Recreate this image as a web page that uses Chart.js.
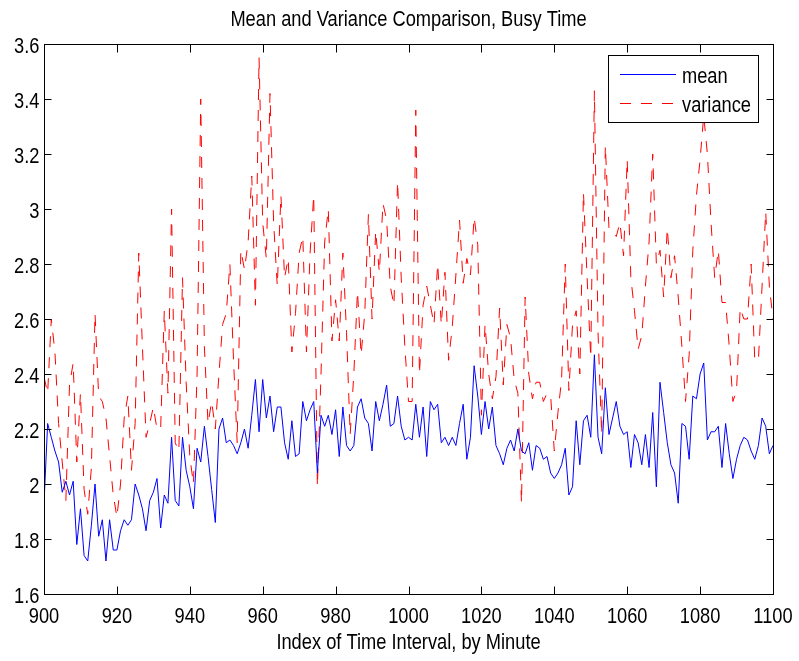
<!DOCTYPE html>
<html>
<head>
<meta charset="utf-8">
<title>Mean and Variance Comparison, Busy Time</title>
<script src="https://cdn.jsdelivr.net/npm/chart.js@4.4.1/dist/chart.umd.min.js"></script>
<style>
    body { margin: 0; background: #ffffff; }
    #chart-box { width: 799px; height: 661px; }
</style>
</head>
<body>
<div id="chart-box"></div>
<script>

// minute index, one point per minute
let firstMinute = 900;

let meanValues = [
    1.93, 2.22, 2.17, 2.12, 2.08, 1.97, 2.01, 1.96, 2.01, 1.78,
    1.91, 1.74, 1.72, 1.85, 2.00, 1.81, 1.87, 1.72, 1.87, 1.76,
    1.76, 1.83, 1.87, 1.85, 1.87, 2.00, 1.96, 1.91, 1.83, 1.94,
    1.97, 2.02, 1.84, 1.96, 1.93, 2.17, 1.94, 1.92, 2.17, 2.05,
    1.99, 1.91, 2.13, 2.08, 2.21, 2.10, 1.98, 1.86, 2.20, 2.24,
    2.15, 2.16, 2.14, 2.11, 2.15, 2.20, 2.13, 2.25, 2.38, 2.19,
    2.38, 2.24, 2.32, 2.19, 2.28, 2.28, 2.15, 2.09, 2.23, 2.10,
    2.11, 2.30, 2.23, 2.27, 2.30, 2.04, 2.25, 2.21, 2.25, 2.18,
    2.27, 2.10, 2.28, 2.14, 2.12, 2.14, 2.28, 2.31, 2.24, 2.22,
    2.12, 2.30, 2.23, 2.29, 2.36, 2.21, 2.22, 2.32, 2.21, 2.16,
    2.17, 2.16, 2.29, 2.17, 2.28, 2.10, 2.30, 2.27, 2.29, 2.15,
    2.17, 2.14, 2.17, 2.14, 2.22, 2.29, 2.09, 2.17, 2.43, 2.32,
    2.18, 2.30, 2.20, 2.28, 2.14, 2.11, 2.07, 2.13, 2.16, 2.12,
    2.20, 2.12, 2.11, 2.15, 2.05, 2.14, 2.13, 2.09, 2.10, 2.04,
    2.02, 2.04, 2.07, 2.13, 1.96, 1.99, 2.23, 2.07, 2.23, 2.25,
    2.17, 2.47, 2.17, 2.11, 2.35, 2.18, 2.24, 2.30, 2.21, 2.18,
    2.19, 2.06, 2.18, 2.15, 2.07, 2.18, 2.06, 2.26, 1.99, 2.37,
    2.26, 2.15, 2.07, 2.04, 1.93, 2.22, 2.21, 2.09, 2.32, 2.31,
    2.40, 2.44, 2.16, 2.19, 2.19, 2.21, 2.06, 2.22, 2.11, 2.02,
    2.09, 2.14, 2.17, 2.16, 2.12, 2.09, 2.14, 2.24, 2.21, 2.11,
    2.14
];

let varianceValues = [
    2.39, 2.33, 2.60, 2.48, 2.22, 2.08, 1.94, 2.36, 2.44, 2.08,
    2.33, 1.98, 1.89, 2.06, 2.62, 2.32, 2.30, 2.24, 2.10, 1.96,
    1.88, 2.00, 2.24, 2.32, 2.05, 2.22, 2.84, 2.50, 2.17, 2.22,
    2.28, 2.20, 2.20, 2.63, 2.33, 3.00, 2.15, 2.12, 2.75, 2.37,
    2.10, 2.00, 2.40, 3.40, 2.50, 2.22, 2.30, 2.20, 2.40, 2.58,
    2.62, 2.80, 2.45, 2.15, 2.85, 2.78, 2.88, 3.12, 2.65, 3.55,
    2.95, 2.82, 3.42, 2.95, 2.72, 3.05, 2.75, 2.82, 2.48, 2.62,
    2.84, 2.90, 2.48, 2.84, 3.05, 1.99, 2.40, 2.88, 3.00, 2.52,
    2.67, 2.52, 2.84, 2.55, 2.18, 2.40, 2.70, 2.47, 2.62, 2.98,
    2.60, 2.92, 2.77, 3.02, 2.96, 2.72, 2.65, 3.10, 2.75, 2.50,
    2.30, 2.30, 3.36, 2.40, 2.65, 2.72, 2.65, 2.58, 2.80, 2.58,
    2.77, 2.45, 2.57, 2.76, 2.96, 2.73, 2.82, 2.76, 2.97, 2.87,
    2.25, 2.58, 2.40, 2.31, 2.39, 2.64, 2.36, 2.58, 2.53, 2.38,
    2.33, 1.93, 2.68, 2.40, 2.31, 2.37, 2.37, 2.30, 2.33, 2.32,
    2.12, 2.26, 2.38, 2.80, 2.34, 2.58, 2.63, 2.40, 3.06, 2.75,
    2.46, 3.43, 2.55, 2.18, 3.23, 2.93, 2.92, 2.90, 2.95, 2.83,
    3.18, 2.75, 2.63, 2.49, 2.54, 2.72, 2.88, 3.20, 2.80, 2.85,
    2.68, 2.93, 2.75, 2.83, 2.68, 2.50, 2.30, 2.47, 2.85, 3.05,
    3.18, 3.34, 3.20, 2.95, 2.75, 2.85, 2.66, 2.66, 2.50, 2.30,
    2.34, 2.64, 2.60, 2.60, 2.80, 2.45, 2.45, 2.72, 2.99, 2.72,
    2.60
];

let xTickValues = [900, 920, 940, 960, 980, 1000, 1020, 1040, 1060, 1080, 1100];
let yTickValues = [1.6, 1.8, 2.0, 2.2, 2.4, 2.6, 2.8, 3.0, 3.2, 3.4, 3.6];

let seriesNames = ['mean', 'variance'];
let chartTitle = 'Mean and Variance Comparison, Busy Time';
let xAxisTitle = 'Index of Time Interval, by Minute';

// no narrow face installed, so the sans is squeezed sideways instead
let fontFamily = '"Liberation Sans", Arial, sans-serif';
let fontSize = 22;
let squeeze = 0.83;

function toPoints(values){
    return values.map((v, i) => ({ x: firstMinute + i, y: v }));
}

function yLabel(v){
    return String(Math.round(v * 10) / 10);
}

function narrowText(ctx, text, x, y, align){
    ctx.save();
    ctx.translate(x, y);
    ctx.scale(squeeze, 1);
    ctx.font = `${fontSize}px ${fontFamily}`;
    ctx.fillStyle = '#000000';
    ctx.textAlign = align;
    ctx.textBaseline = 'alphabetic';
    ctx.fillText(text, 0, 0);
    ctx.restore();
}

// title, frame, inward ticks, tick labels and the boxed legend, matlab style
let axesDecor = {
    id: 'axesDecor',
    afterDraw(chart) {
        let ctx = chart.ctx;
        let area = chart.chartArea;
        let xs = chart.scales.x;
        let ys = chart.scales.y;

        ctx.save();

        narrowText(ctx, chartTitle, (area.left + area.right) / 2, 26, 'center');

        ctx.strokeStyle = '#000000';
        ctx.lineWidth = 1;
        ctx.setLineDash([]);
        let l = Math.round(area.left) + 0.5;
        let r = Math.round(area.right) + 0.5;
        let t = Math.round(area.top) + 0.5;
        let b = Math.round(area.bottom) + 0.5;

        ctx.beginPath();
        xTickValues.forEach(v => {
            let px = Math.round(xs.getPixelForValue(v)) + 0.5;
            ctx.moveTo(px, b); ctx.lineTo(px, b - 8);
            ctx.moveTo(px, t); ctx.lineTo(px, t + 8);
        });
        yTickValues.forEach(v => {
            let py = Math.round(ys.getPixelForValue(v)) + 0.5;
            ctx.moveTo(l, py); ctx.lineTo(l + 7, py);
            ctx.moveTo(r, py); ctx.lineTo(r - 7, py);
        });
        ctx.stroke();
        ctx.strokeRect(l, t, r - l, b - t);

        xTickValues.forEach(v => {
            narrowText(ctx, String(v), xs.getPixelForValue(v), b + 28, 'center');
        });
        yTickValues.forEach(v => {
            narrowText(ctx, yLabel(v), l - 5, ys.getPixelForValue(v) + 9, 'right');
        });
        narrowText(ctx, xAxisTitle, (area.left + area.right) / 2, 649, 'center');

        // legend box
        let box = { left: 608.5, top: 55.5, width: 150, height: 67 };
        ctx.fillStyle = '#ffffff';
        ctx.fillRect(box.left, box.top, box.width, box.height);
        ctx.strokeStyle = '#000000';
        ctx.strokeRect(box.left, box.top, box.width, box.height);

        let rows = [74.5, 103.5];
        chart.data.datasets.forEach((ds, i) => {
            ctx.beginPath();
            ctx.strokeStyle = ds.borderColor;
            ctx.lineWidth = ds.borderWidth;
            ctx.setLineDash(ds.borderDash || []);
            ctx.moveTo(620, rows[i]);
            ctx.lineTo(676, rows[i]);
            ctx.stroke();
            ctx.setLineDash([]);
            narrowText(ctx, ds.label, 682, rows[i] + 8, 'left');
        });

        ctx.restore();
    }
};

function createBusyChart(){

    let box = document.getElementById('chart-box');
    box.innerHTML = `<canvas id="busy-chart" width="799" height="661"></canvas>`;

    let busy_chart_html = document.getElementById('busy-chart').getContext('2d');

    let busyChart = new Chart(busy_chart_html, {
        type: 'line',
        data: {
            datasets: [{
                label: seriesNames[0],
                data: toPoints(meanValues),
                borderColor: '#0000ff',
                borderWidth: 1,
                pointRadius: 0,
                fill: false
            },
            {
                label: seriesNames[1],
                data: toPoints(varianceValues),
                borderColor: '#ff0000',
                borderWidth: 1,
                borderDash: [11, 10],
                pointRadius: 0,
                fill: false
            }]
        },
        options: {
            responsive: false,
            animation: false,
            devicePixelRatio: 1,
            layout: { padding: { top: 44, right: 26, left: 0, bottom: 0 } },
            plugins: {
                legend: { display: false },
                title: { display: false },
                tooltip: { enabled: false }
            },
            scales: {
                x: {
                    type: 'linear',
                    min: 900,
                    max: 1100,
                    afterBuildTicks: (scale) => { scale.ticks = xTickValues.map(v => ({ value: v })); },
                    afterFit: (scale) => { scale.height = 67; },
                    grid: { display: false, drawTicks: false },
                    border: { display: false },
                    ticks: { display: false }
                },
                y: {
                    min: 1.6,
                    max: 3.6,
                    afterBuildTicks: (scale) => { scale.ticks = yTickValues.map(v => ({ value: v })); },
                    afterFit: (scale) => { scale.width = 44; },
                    grid: { display: false, drawTicks: false },
                    border: { display: false },
                    ticks: { display: false }
                }
            }
        },
        plugins: [axesDecor]
    });
}

createBusyChart();
</script>
</body>
</html>
